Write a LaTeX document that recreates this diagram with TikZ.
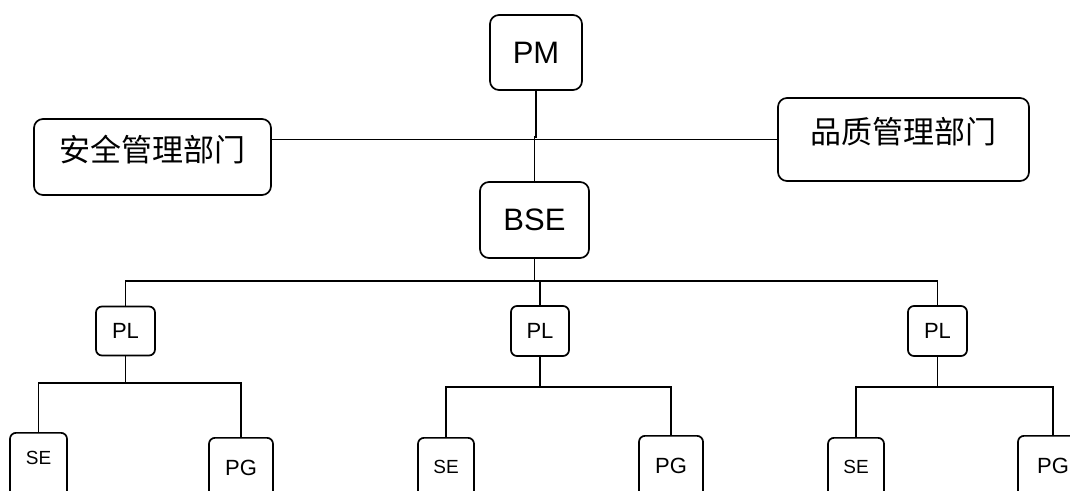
\documentclass[tikz,border=0pt]{standalone}
\usepackage{fontspec}
\setmainfont{Liberation Sans}
\newfontfamily\cjk{Noto Sans CJK SC}
\tikzset{
  box/.style={draw, line width=1.7pt, rounded corners=9pt, inner sep=0pt},
  sbox/.style={draw, line width=1.7pt, rounded corners=6pt, inner sep=0pt},
  conn/.style={line width=1.7pt},
  big/.style={font=\fontsize{31}{31}\selectfont},
  mid/.style={font=\fontsize{22}{22}\selectfont},
  cn/.style={font=\cjk\fontsize{31}{31}\selectfont},
}
\begin{document}
\begin{tikzpicture}[x=1pt,y=-1pt]
\useasboundingbox (0,0) rectangle (1070,490);
\clip (0,0) rectangle (1070,490);
\fill[white] (0,0) rectangle (1070,490);
% top nodes
\node[box, big, minimum width=92pt, minimum height=75pt] (pm) at (536,52.5) {PM};
\node[box, big, minimum width=109pt, minimum height=76pt] (bse) at (534.5,220) {BSE};
\node[box, minimum width=237pt, minimum height=76pt, label={[cn, anchor=center, yshift=-38pt+7pt]north:安全管理部门}] (left) at (152.5,157) {};
\node[box, minimum width=251pt, minimum height=83pt, label={[cn, anchor=center, yshift=-35pt]north:品质管理部门}] (right) at (903.5,139.5) {};
% PL nodes
\node[sbox, mid, minimum width=59pt, minimum height=49pt] (pl1) at (125.5,331) {PL};
\node[sbox, mid, minimum width=58pt, minimum height=50pt] (pl2) at (540,331) {PL};
\node[sbox, mid, minimum width=59pt, minimum height=50pt] (pl3) at (937.5,331) {PL};
% bottom nodes
\node[sbox, anchor=north, minimum width=57pt, minimum height=80pt, label={[font=\fontsize{19}{19}\selectfont, anchor=center, yshift=-26pt]north:SE}] (se1) at (38.5,432) {};
\node[sbox, anchor=north, minimum width=64pt, minimum height=80pt, label={[mid, anchor=center, yshift=-31pt]north:PG}] (pg1) at (241,437) {};
\node[sbox, anchor=north, minimum width=56pt, minimum height=80pt, label={[font=\fontsize{19}{19}\selectfont, anchor=center, yshift=-30pt]north:SE}] (se2) at (446,437) {};
\node[sbox, anchor=north, minimum width=64pt, minimum height=80pt, label={[mid, anchor=center, yshift=-31pt]north:PG}] (pg2) at (671,435) {};
\node[sbox, anchor=north, minimum width=56pt, minimum height=80pt, label={[font=\fontsize{19}{19}\selectfont, anchor=center, yshift=-30pt]north:SE}] (se3) at (856,437) {};
\node[sbox, anchor=north, minimum width=70pt, minimum height=80pt, label={[mid, anchor=center, yshift=-31pt]north:PG}] (pg3) at (1053,435) {};
% connectors
\draw[conn] (pm.south) -- ++(0,46) -| (bse.north);
\draw[conn] (left.east |- right.west) -- (right.west);
\draw[conn] (bse.south) -- ++(0,23);
\draw[conn] (pl1.north) -- ++(0,-25) -| (pl3.north);
\draw[conn] (pl2.north) -- ++(0,-25);
\draw[conn] (pl1.south) -- ++(0,27.5);
\draw[conn] (se1.north) -- ++(0,-49) -| (pg1.north);
\draw[conn] (pl2.south) -- ++(0,31);
\draw[conn] (se2.north) -- ++(0,-50) -| (pg2.north);
\draw[conn] (pl3.south) -- ++(0,31);
\draw[conn] (se3.north) -- ++(0,-50) -| (pg3.north);
\end{tikzpicture}
\end{document}
